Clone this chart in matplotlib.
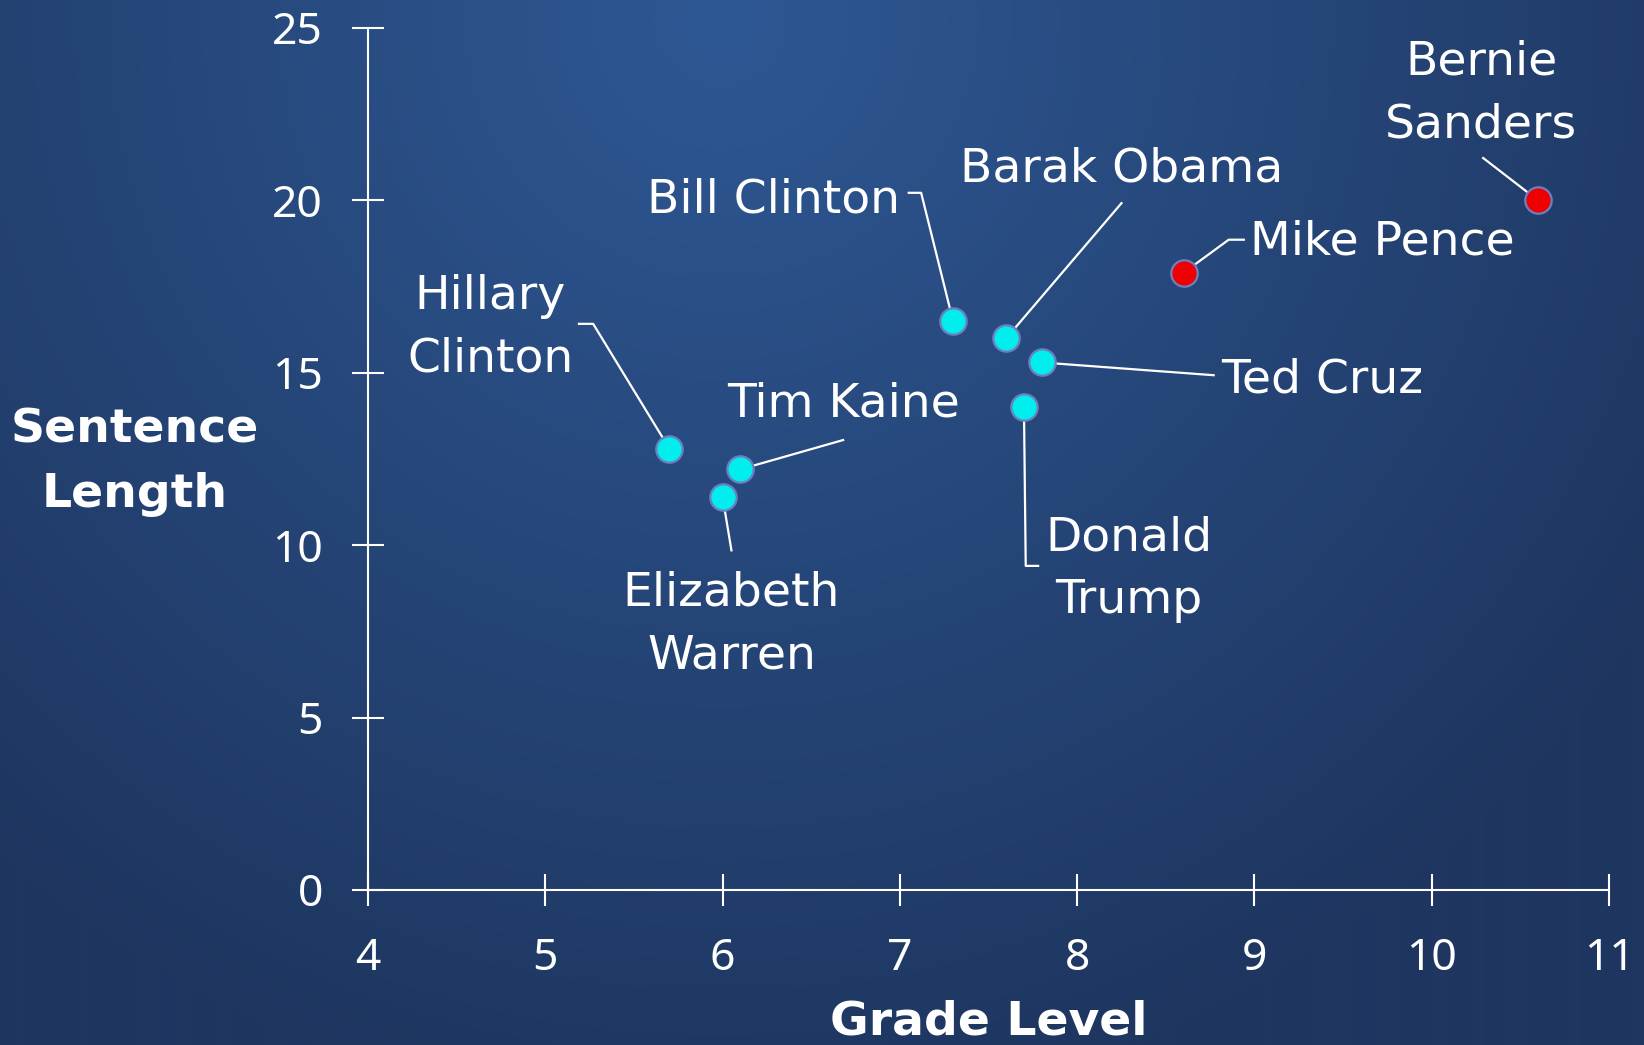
import numpy as np
import matplotlib
matplotlib.use("Agg")
import matplotlib.pyplot as plt

# --- data ---
names = ["Hillary\nClinton", "Tim Kaine", "Elizabeth\nWarren", "Bill Clinton",
         "Barak Obama", "Ted Cruz", "Donald\nTrump", "Mike Pence", "Bernie\nSanders"]
grade_level = [5.7, 6.1, 6.0, 7.3, 7.6, 7.8, 7.7, 8.6, 10.6]
sentence_len = [12.8, 12.2, 11.4, 16.5, 16.0, 15.3, 14.0, 17.9, 20.0]
highlight = [False, False, False, False, False, False, False, True, True]

# label centers (data coords)
label_x = [4.69, 6.68, 6.05, 6.29, 8.25, 9.38, 8.29, 9.72, 10.28]
label_y = [16.3, 14.1, 7.7, 20.0, 20.9, 14.8, 9.3, 18.8, 23.1]

# leader lines: start near label, optional elbow, then to the point
leader_start = [(5.19, 16.42), (6.68, 13.05), (6.05, 9.85), (7.05, 20.22),
                (8.25, 19.92), (8.77, 14.93), (7.78, 9.40), (8.94, 18.86), (10.29, 21.23)]
leader_elbow = [(5.27, 16.42), None, None, (7.12, 20.22),
                None, None, (7.71, 9.40), (8.855, 18.86), None]

xticks = [4, 5, 6, 7, 8, 9, 10, 11]
yticks = [0, 5, 10, 15, 20, 25]

W, H = 1644, 1045
fig = plt.figure(figsize=(W / 100, H / 100), dpi=100)

# radial gradient background
bg = fig.add_axes([0, 0, 1, 1], zorder=-10)
yy, xx = np.mgrid[0:H, 0:W]
r = np.sqrt(((xx - 720) / 1100.0) ** 2 + ((yy - 20) / 1100.0) ** 2)
r = np.clip(r, 0, 1)
c_in = np.array([46, 88, 148]) / 255.0
c_out = np.array([30, 54, 96]) / 255.0
img = c_in[None, None, :] * (1 - r[..., None]) + c_out[None, None, :] * r[..., None]
bg.imshow(img, aspect="auto", extent=[0, 1, 0, 1])
bg.axis("off")

ax = fig.add_axes([368 / W, 1 - 890 / H, (1609 - 368) / W, (890 - 28) / H])
ax.patch.set_alpha(0)

white = "white"
for s in ["top", "right"]:
    ax.spines[s].set_visible(False)
for s in ["left", "bottom"]:
    ax.spines[s].set_color(white)
    ax.spines[s].set_linewidth(1.5)

ax.set_xlim(4, 11)
ax.set_ylim(0, 25)
ax.set_xticks(xticks)
ax.set_yticks(yticks)
tick_font = ["Noto Sans", "DejaVu Sans"]
ax.set_xticklabels([str(t) for t in xticks], fontsize=32, color=white, family=tick_font)
ax.set_yticklabels([str(t) for t in yticks], fontsize=32, color=white, family=tick_font)
ax.tick_params(axis="both", direction="inout", length=23, width=1.5, color=white)
ax.tick_params(axis="y", pad=21)
ax.tick_params(axis="x", pad=22)

# leader lines
for i in range(len(names)):
    pts = [leader_start[i]]
    if leader_elbow[i] is not None:
        pts.append(leader_elbow[i])
    pts.append((grade_level[i], sentence_len[i]))
    px, py = zip(*pts)
    ax.plot(px, py, color=white, lw=1.6, zorder=2, clip_on=False)

# points
for i in range(len(names)):
    fc = "#EE0000" if highlight[i] else "#00EEEE"
    ax.plot(grade_level[i], sentence_len[i], "o", ms=19, mfc=fc, mec="#6C7FBF",
            mew=1.6, zorder=3, clip_on=False)

# labels
for i, n in enumerate(names):
    ax.text(label_x[i], label_y[i], n, fontsize=34, color=white, ha="center",
            va="center", linespacing=1.5, family="DejaVu Sans", zorder=4)

fig.text(989 / W, 1 - 1022 / H, "Grade Level", fontsize=34, fontweight="bold",
         color=white, ha="center", va="center")
fig.text(135 / W, 1 - 462 / H, "Sentence\nLength", fontsize=34, fontweight="bold",
         color=white, ha="center", va="center", linespacing=1.55)

fig.savefig("out.png", dpi=100)
